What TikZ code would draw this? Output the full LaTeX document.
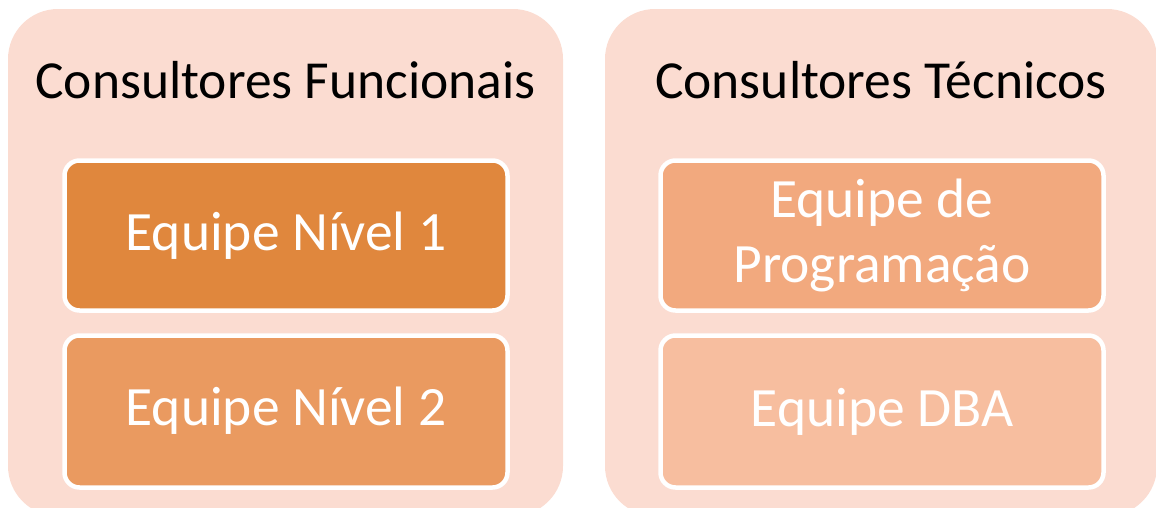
\documentclass[tikz,border=0pt]{standalone}
\usepackage{fontspec}
\setmainfont{Carlito}
\definecolor{outerfill}{HTML}{FBDCD1}
\definecolor{lvlone}{HTML}{E0873D}
\definecolor{lvltwo}{HTML}{EA9A60}
\definecolor{prog}{HTML}{F2A97E}
\definecolor{dba}{HTML}{F7BE9F}
\tikzset{
  groupbox/.style={fill=outerfill, draw=none, rounded corners=50pt, inner sep=0pt, minimum width=#1, minimum height=507pt},
  teambox/.style={fill=#1, draw=white, line width=4.5pt, rounded corners=15pt, inner sep=0pt, minimum width=443pt},
  titletext/.style={anchor=base, text=black, font=\fontsize{53.5}{64}\selectfont, inner sep=0pt},
  teamtext/.style={anchor=base, text=white, font=\fontsize{55.5}{65}\selectfont, inner sep=0pt, align=center},
}
\begin{document}
\begin{tikzpicture}[x=1pt,y=-1pt]
\useasboundingbox (0,0) rectangle (1156,507);
\clip (0,0) rectangle (1156,507);
\node[groupbox=555pt] (gleft) at (285.5,262.5) {};
\node[groupbox=552pt] (gright) at (881,262.5) {};
\node[titletext] (tleft) at (285.5,98) {Consultores Funcionais};
\node[titletext] (tright) at (881,98) {Consultores Técnicos};
\node[teambox=lvlone, minimum height=150pt] (n1) at (286,235.5) {};
\node[teambox=lvltwo, minimum height=152pt] (n2) at (286,411.5) {};
\node[teambox=prog, minimum height=150pt] (pr) at (882,235.5) {};
\node[teambox=dba, minimum height=152pt] (db) at (882,411.5) {};
\node[teamtext] (n1t) at (286,250) {Equipe Nível 1};
\node[teamtext] (n2t) at (286,425) {Equipe Nível 2};
\node[teamtext] (prt1) at (882,217) {Equipe de};
\node[teamtext] (prt2) at (882,282) {Programação};
\node[teamtext] (dbt) at (882,426) {Equipe DBA};
\end{tikzpicture}
\end{document}
